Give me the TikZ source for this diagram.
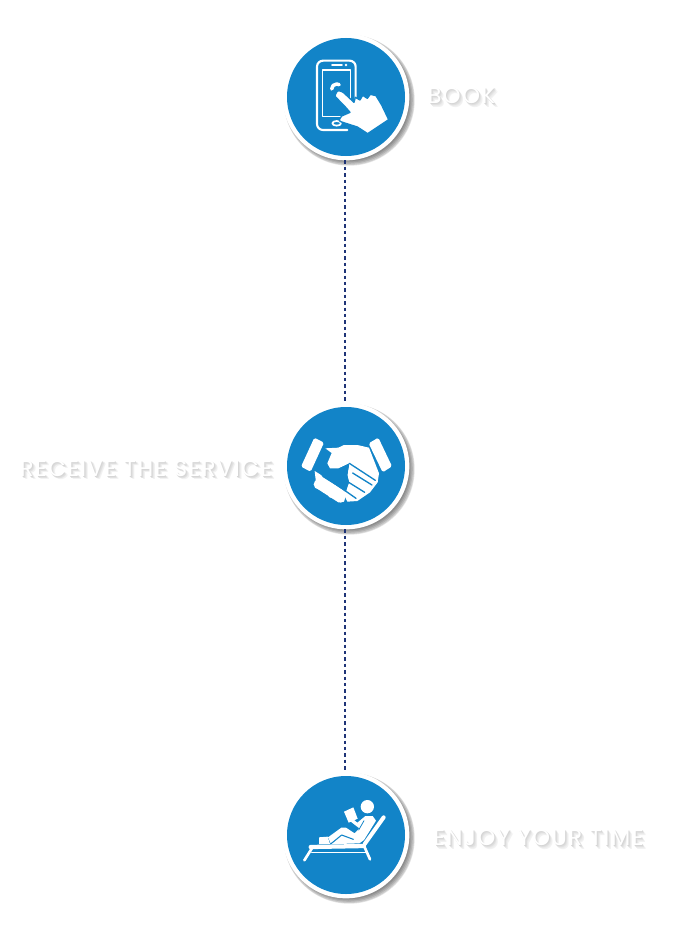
\documentclass[tikz,border=0pt]{standalone}
\usepackage{fontspec}
\setmainfont[LetterSpace=8]{Poppins}
\definecolor{iconblue}{HTML}{1284C8}
\definecolor{linknavy}{HTML}{1F3477}
\tikzset{
  disc/.style={circle,fill=white,minimum size=95pt,inner sep=0pt,outer sep=0pt},
  link/.style={linknavy,line width=1.1pt,dash pattern=on 2.6pt off 2.2pt},
  blur/.style={fill=black,fill opacity=.11,draw=none},
  lab/.style={inner sep=0pt,font=\fontsize{16.7pt}{18pt}\selectfont},
  ink/.style={fill=white,draw=none},
  wline/.style={draw=white,line cap=round,line join=round},
  gap/.style={draw=iconblue,line cap=round,line join=round},
}
\newcommand{\softdisc}[2]{%
  \foreach \r/\d in {65.5/3.2,65/3,64/2.8,63/2.5,62/2.2}{\fill[blur] (#1+\d,#2+\d) circle[radius=\r*.75pt];}%
}
\newcommand{\softlabel}[5]{%
  \foreach \d/\c in {3.5/5,2.6/8,1.8/12,1/16}{\node[lab,anchor=#4,text=black!\c] (#1s\d) at (#2+\d,#3+\d) {#5};}%
  \node[lab,anchor=#4,text=white] (#1) at (#2,#3) {#5};%
}
\begin{document}
\begin{tikzpicture}[x=.75pt,y=-.75pt]
\useasboundingbox (0,0) rectangle (678,942);
\fill[white] (0,0) rectangle (678,942);
% shadows
\softdisc{346}{97}\softdisc{346}{466}\softdisc{346}{835}
% discs
\node[disc] (d1) at (346,97) {};
\node[disc] (d2) at (346,466) {};
\node[disc] (d3) at (346,835) {};
\fill[iconblue] (d1) circle[radius=59*.75pt];
\fill[iconblue] (d2) circle[radius=59*.75pt];
\fill[iconblue] (d3) circle[radius=59*.75pt];
% connectors
\draw[link] ([xshift=-.6pt]d1.south) -- ([xshift=-.6pt]d2.north);
\draw[link] ([xshift=-.6pt]d2.south) -- ([xshift=-.6pt]d3.north);
% phone icon
\begin{scope}[shift={(270,25)},x=.25pt,y=-.25pt]
  \draw[wline,line width=1.6pt,rounded corners=4.5pt] (232,315) -- (141,315) -- (141,107) -- (257,107) -- (257,232);
  \draw[wline,line width=1.1pt] (158,135) rectangle (242,275);
  \draw[wline,line width=1.3pt] (186,120) -- (216,120);
  \fill[white] (228,120) circle[radius=4];
  \draw[wline,line width=1.3pt] (200,295) ellipse[x radius=13,y radius=7];
  \draw[wline,line width=2.6pt] (185,192) arc[start angle=180,end angle=300,radius=15];
  \path[ink,draw=iconblue,line width=1pt,line join=round]
    (206,197) to[out=-20,in=130] (222,204) -- (252,232) -- (256,217) -- (270,225) -- (278,211) -- (292,220) -- (301,208) -- (318,212) -- (335,240) -- (356,284) -- (293,326) -- (262,306) -- (212,290) to[out=170,in=210] (215,273) -- (240,262) -- (226,246) -- (197,216) to[out=230,in=170] (206,197) -- cycle;
\end{scope}
% handshake icon
\begin{scope}[shift={(270,395)},x=.25pt,y=-.25pt]
  \path[ink,rounded corners=1.2pt] (133,128) -- (162,143) -- (122,230) -- (93,215) -- cycle;
  \path[ink,rounded corners=1.2pt] (325,128) -- (296,145) -- (338,232) -- (366,214) -- cycle;
  \path[ink,line join=round] (166,160) -- (205,158) -- (222,150) -- (262,150) -- (297,158) -- (327,235) -- (323,262) -- (300,292) -- (262,318) -- (232,320) -- (222,300) -- (238,262) -- (232,240) -- (238,205) -- (205,220) -- (180,220) -- (172,205) -- (185,174) -- cycle;
  \path[ink] (134,228) -- (150,238) -- (228,292) -- (222,320) -- (205,322) -- (140,280) -- cycle;
  \foreach \p/\r in {{146,268}/15,{168,280}/15,{187,296}/14,{212,310}/13}{\fill[white] (\p) circle[radius=\r];}
  \path[fill=iconblue] (238,205) -- (205,222) -- (150,232) -- (158,246) -- (228,290) -- (236,262) -- (232,240) -- cycle;
  \draw[gap,line width=1pt] (238,205) -- (316,256);
  \draw[gap,line width=1pt] (248,234) -- (306,270);
  \draw[gap,line width=1pt] (236,262) -- (284,292);
  \draw[gap,line width=1pt] (224,286) -- (258,310);
\end{scope}
% lounger icon
\begin{scope}[shift={(270,760)},x=.25pt,y=-.25pt]
  \fill[white] (292,140) circle[radius=20];
  \path[ink] (222,155) -- (250,142) -- (263,176) -- (236,188) -- cycle;
  \path[ink,line join=round] (286,168) -- (308,168) -- (318,182) -- (282,240) -- (268,250) -- (205,252) -- (183,252) -- (174,232) -- (214,203) -- (228,203) -- (254,220) -- (268,205) -- (236,180) -- (243,172) -- (262,188) -- cycle;
  \path[ink] (147,232) -- (173,230) -- (180,252) -- (147,252) -- cycle;
  \draw[gap,line width=.8pt] (182,252) -- (215,225) -- (250,238);
  \draw[gap,line width=.6pt] (266,210) -- (282,182);
  \draw[wline,line width=3pt] (341,172) -- (284,252);
  \draw[wline,line width=3.2pt] (122,261) -- (282,258);
  \draw[wline,line width=.8pt] (125,278) -- (292,278);
  \draw[wline,line width=2pt] (103,301) -- (125,266);
  \draw[wline,line width=2pt] (300,298) -- (284,262);
\end{scope}
% labels
\softlabel{t1}{461.5}{96}{center}{BOOK}
\softlabel{t2}{146}{468.5}{center}{RECEIVE THE SERVICE}
\softlabel{t3}{538.5}{838}{center}{ENJOY YOUR TIME}
\end{tikzpicture}
\end{document}
